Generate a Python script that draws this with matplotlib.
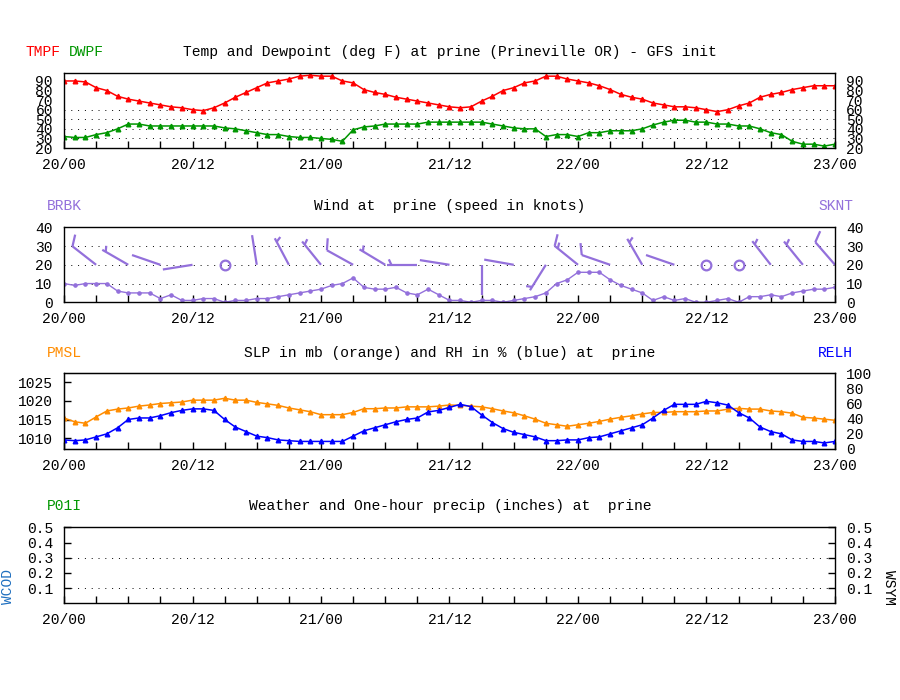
import numpy as np
import matplotlib
matplotlib.use("Agg")
import matplotlib.pyplot as plt

plt.rcParams['font.family'] = ['Liberation Mono', 'DejaVu Sans Mono']
plt.rcParams['font.size'] = 10.5

#%% Data (hourly, 20/00 -> 23/00)
hours = np.arange(73)
day_labels = ['20/00', '20/12', '21/00', '21/12', '22/00', '22/12', '23/00']

tmpf = [90, 90, 89, 83, 80, 74, 71, 69, 67, 65, 63, 62,
        60, 59, 62, 67, 73, 78, 83, 88, 90, 92, 95, 96,
        95, 95, 90, 88, 81, 78, 76, 73, 71, 69, 67, 65,
        63, 62, 63, 69, 74, 80, 83, 88, 90, 95, 95, 92,
        90, 88, 85, 81, 76, 73, 71, 67, 65, 63, 63, 62,
        60, 58, 60, 64, 67, 73, 76, 78, 81, 83, 85, 85, 85]
dwpf = [32, 31, 31, 34, 36, 40, 45, 45, 43, 43, 43, 43,
        43, 43, 43, 41, 40, 38, 36, 34, 34, 32, 31, 31,
        30, 29, 27, 39, 42, 43, 45, 45, 45, 45, 47, 47,
        47, 47, 47, 47, 45, 43, 41, 40, 40, 32, 34, 34,
        32, 36, 36, 38, 38, 38, 40, 44, 47, 49, 49, 47,
        47, 45, 45, 43, 43, 40, 36, 34, 27, 24, 24, 22, 24]
sknt = [10, 9, 10, 10, 10, 6, 5, 5, 5, 2, 4, 1,
        1, 2, 2, 0, 1, 1, 2, 2, 3, 4, 5, 6,
        7, 9, 10, 13, 8, 7, 7, 8, 5, 4, 7, 4,
        1, 1, 0, 1, 1, 0, 1, 2, 3, 5, 10, 12,
        16, 16, 16, 12, 9, 7, 5, 1, 3, 1, 2, 0,
        0, 1, 2, 0, 3, 3, 4, 3, 5, 6, 7, 7, 8]
pmsl = [1015.4, 1014.4, 1014.0, 1015.7, 1017.3, 1017.8, 1018.1, 1018.6, 1018.9, 1019.3, 1019.5, 1019.7,
        1020.2, 1020.2, 1020.2, 1020.7, 1020.2, 1020.2, 1019.6, 1019.2, 1018.8, 1018.1, 1017.6, 1017.1,
        1016.3, 1016.3, 1016.3, 1016.9, 1017.9, 1017.9, 1018.1, 1018.1, 1018.4, 1018.4, 1018.4, 1018.6,
        1018.9, 1018.8, 1018.6, 1018.4, 1017.9, 1017.3, 1016.8, 1016.0, 1015.1, 1014.0, 1013.6, 1013.2,
        1013.6, 1014.0, 1014.5, 1015.1, 1015.6, 1016.0, 1016.5, 1016.9, 1016.9, 1017.1, 1017.1, 1017.1,
        1017.3, 1017.3, 1017.8, 1018.0, 1017.8, 1017.8, 1017.3, 1017.1, 1016.7, 1015.6, 1015.4, 1015.1, 1014.8]
relh = [12, 11, 12, 16, 20, 28, 39, 41, 41, 44, 48, 51,
        53, 53, 51, 39, 29, 23, 17, 15, 12, 11, 10, 10,
        10, 10, 10, 17, 24, 28, 32, 36, 39, 41, 49, 51,
        55, 59, 56, 45, 35, 27, 22, 19, 16, 11, 11, 12,
        12, 15, 16, 20, 24, 28, 32, 41, 51, 59, 59, 59,
        63, 61, 58, 48, 41, 29, 23, 20, 12, 10, 10, 8, 10]

# wind barbs every 3 h: direction (deg, from) and plotted speed (kt)
barb_hours = np.arange(0, 73, 3)
barb_dir = [270, 308, 300, 289, 261, 0, 351, 332, 321, 299, 301, 270, 279,
            180, 280, 212, 309, 289, 330, 289, 0, 0, 322, 321, 319]
barb_kt = [10, 10, 5, 2, 1, 0, 2, 5, 5, 10, 5, 5, 1,
           1, 1, 5, 15, 10, 5, 1, 0, 0, 5, 5, 10]

RED = '#ff0000'
GREEN = '#009600'
PURPLE = '#9370db'
ORANGE = '#ff8c00'
BLUE = '#0000ff'

#%% Figure layout
W, H = 900, 700
fig = plt.figure(figsize=(9, 7), dpi=100)
left, width = 64 / W, 771 / W

def make_ax(top_px, bot_px):
    return fig.add_axes([left, 1 - bot_px / H, width, (bot_px - top_px) / H])

ax_t = make_ax(73.3, 148)
ax_w = make_ax(227.3, 302.3)
ax_p = make_ax(373.3, 449)
ax_q = make_ax(527.3, 603.3)

xticks = np.arange(0, 73, 3)
xlabels = [day_labels[i // 4] if i % 4 == 0 else '' for i in range(len(xticks))]

def style(ax, grid_vals):
    ax.set_xlim(0, 72)
    ax.set_xticks(xticks)
    ax.set_xticklabels(xlabels)
    ax.tick_params(axis='x', direction='in', length=5, width=1, pad=7)
    ax.tick_params(axis='y', direction='in', length=0, pad=8)
    for s in ax.spines.values():
        s.set_linewidth(1.0)
    for g in grid_vals:
        ax.axhline(g, color='black', lw=0.7, ls=(0, (1, 6)), zorder=0)

def title(y_px, text):
    fig.text(0.5, 1 - y_px / H, text, ha='center', va='center')

def lab(x_px, y_px, text, color):
    fig.text(x_px / W, 1 - y_px / H, text, ha='left', va='center', color=color)

#%% Temperature / dewpoint
style(ax_t, [30, 40, 50, 60])
ax_t.plot(hours, tmpf, color=RED, lw=1.1, marker='^', ms=3.3)
ax_t.plot(hours, dwpf, color=GREEN, lw=1.1, marker='^', ms=3.3)
ax_t.set_ylim(20, 98)
ax_t.set_yticks(range(20, 91, 10))
ax_t.tick_params(axis='y', labelright=True)
title(52, 'Temp and Dewpoint (deg F) at prine (Prineville OR) - GFS init')
lab(25, 52, 'TMPF', RED)
lab(69, 52, 'DWPF', GREEN)

#%% Wind
style(ax_w, [10, 20, 30])
ax_w.plot(hours, sknt, color=PURPLE, lw=1, marker='o', ms=2.3)
ax_w.set_ylim(0, 40)
ax_w.set_yticks(range(0, 41, 10))
ax_w.tick_params(axis='y', labelright=True)

bb = ax_w.get_window_extent()
sx = 72 / bb.width
sy = 40 / bb.height
staff, full, half, gap = 30, 12, 6, 4
base_y = 20
for h, d, kt in zip(barb_hours, barb_dir, barb_kt):
    if kt == 0:
        ax_w.plot(h, base_y, 'o', mfc='none', mec=PURPLE, ms=7, mew=1.6)
        continue
    th = np.radians(d)
    ux, uy = np.sin(th), np.cos(th)
    tip = (h + staff * ux * sx, base_y + staff * uy * sy)
    ax_w.plot([h, tip[0]], [base_y, tip[1]], color=PURPLE, lw=1.6, solid_capstyle='butt')
    fth = np.radians(d + 65)
    fx, fy = np.sin(fth), np.cos(fth)
    n_full, n_half = kt // 10, (kt % 10) // 5
    feathers = [full] * n_full + [half] * n_half
    for k, flen in enumerate(feathers):
        pos = k if n_full else 1
        px0 = tip[0] - pos * gap * ux * sx
        py0 = tip[1] - pos * gap * uy * sy
        ax_w.plot([px0, px0 + flen * fx * sx], [py0, py0 + flen * fy * sy],
                  color=PURPLE, lw=1.6, solid_capstyle='butt')

title(206, 'Wind at  prine (speed in knots)')
lab(47, 206, 'BRBK', PURPLE)
lab(818, 206, 'SKNT', PURPLE)

#%% Pressure / RH
style(ax_p, [])
ax_p.plot(hours, pmsl, color=ORANGE, lw=1.1, marker='^', ms=3.3)
ax_p.set_ylim(1007.1, 1027.4)
ax_p.set_yticks([1010, 1015, 1020, 1025])
ax_p.tick_params(axis='y', length=5, width=1)
ax_r = ax_p.twinx()
ax_r.set_position(ax_p.get_position())
ax_r.plot(hours, relh, color=BLUE, lw=1.1, marker='^', ms=3.3)
ax_r.set_ylim(0, 100)
ax_r.set_yticks(range(0, 101, 20))
ax_r.tick_params(axis='y', direction='in', length=0, pad=8)
title(353, 'SLP in mb (orange) and RH in % (blue) at  prine')
lab(47, 353, 'PMSL', ORANGE)
lab(818, 353, 'RELH', BLUE)

#%% Precip
style(ax_q, [0.1, 0.3])
ax_q.set_ylim(0, 0.5)
ax_q.set_yticks([0.1, 0.2, 0.3, 0.4, 0.5])
ax_q.set_yticklabels(['0.1', '0.2', '0.3', '0.4', '0.5'])
ax_q.tick_params(axis='y', length=5, width=1, labelright=True, right=True)
title(506, 'Weather and One-hour precip (inches) at  prine')
lab(47, 506, 'P01I', GREEN)
fig.text(8 / W, 1 - 587 / H, 'WCOD', rotation=90, ha='center', va='center', color='#1f6fbf')
fig.text(889 / W, 1 - 588 / H, 'WSYM', rotation=270, ha='center', va='center', color='black')

fig.savefig('out.png', dpi=100, facecolor='white')
